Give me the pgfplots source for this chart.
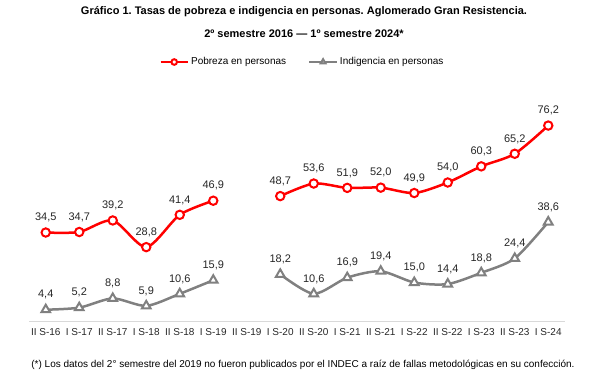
\documentclass[border=0pt]{standalone}
\usepackage{fontspec}
\setmainfont{Liberation Sans}
\usepackage{pgfplots}
\pgfplotsset{compat=1.18}
\usepackage{pgfplotstable}
\definecolor{pred}{RGB}{255,0,0}
\definecolor{pgray}{RGB}{128,128,128}
\definecolor{axgray}{RGB}{217,217,217}
\pgfplotstableread{
x pob ind
0 34.5 4.4
1 34.7 5.2
2 39.2 8.8
3 28.8 5.9
4 41.4 10.6
5 46.9 15.9
6 nan nan
7 48.7 18.2
8 53.6 10.6
9 51.9 16.9
10 52.0 19.4
11 49.9 15.0
12 54.0 14.4
13 60.3 18.8
14 65.2 24.4
15 76.2 38.6
}\data
\begin{document}
\frenchspacing
\begin{tikzpicture}
\path[use as bounding box] (-29pt,-51pt) rectangle (579pt,321pt);
\begin{axis}[
  scale only axis, width=536pt, height=218pt,
  xmin=-0.5, xmax=15.5, ymin=0, ymax=85,
  axis x line=bottom, axis y line=none,
  axis line style={axgray, line width=0.8pt, -},
  xtick={0,...,15},
  xticklabels={II S-16, I S-17, II S-17, I S-18, II S-18, I S-19, II S-19, I S-20, II S-20, I S-21, II S-21, I S-22, II S-22, I S-23, II S-23, I S-24},
  xtick style={draw=none},
  xticklabel style={font=\fontsize{10}{12}\selectfont, text=black!85, yshift=-2pt},
  ytick=\empty,
  unbounded coords=jump,
  clip=false,
  /pgf/number format/.cd, use comma, fixed, fixed zerofill, precision=1, assume math mode=true, /pgfplots/.cd,
  nodes near coords,
  nodes near coords style={font=\fontsize{11}{13}\selectfont, text=black!85, anchor=south, yshift=6pt},
  legend style={at={(0.51,1.188)}, anchor=center, draw=none, legend columns=2,
    font=\fontsize{10}{12}\selectfont,
    /tikz/every even column/.append style={column sep=20pt}},
  legend image code/.code={\draw[mark repeat=2,mark phase=2, mark size=2.8pt] plot coordinates {(0cm,0cm) (0.48cm,0cm) (0.96cm,0cm)};},
]
\addplot[pred, line width=2.5pt, smooth, tension=0.45, mark=*, mark size=4.2pt,
  mark options={fill=white, draw=pred, line width=2pt}] table[x=x, y=pob] {\data};
\addlegendentry{Pobreza en personas}
\addplot[pgray, line width=2.5pt, smooth, tension=0.45, mark=triangle*, mark size=5pt,
  mark options={fill=white, draw=pgray, line width=2pt}] table[x=x, y=ind] {\data};
\addlegendentry{Indigencia en personas}
\end{axis}
\node[font=\bfseries\fontsize{11}{13}\selectfont] at (275pt,309pt) {Gráfico 1. Tasas de pobreza e indigencia en personas. Aglomerado Gran Resistencia.};
\node[font=\bfseries\fontsize{11}{13}\selectfont] at (275pt,287pt) {2º semestre 2016 — 1º semestre 2024*};
\node[font=\fontsize{10}{12}\selectfont] at (274pt,-44pt) {(*) Los datos del 2° semestre del 2019 no fueron publicados por el INDEC a raíz de fallas metodológicas en su confección.};
\end{tikzpicture}
\end{document}
